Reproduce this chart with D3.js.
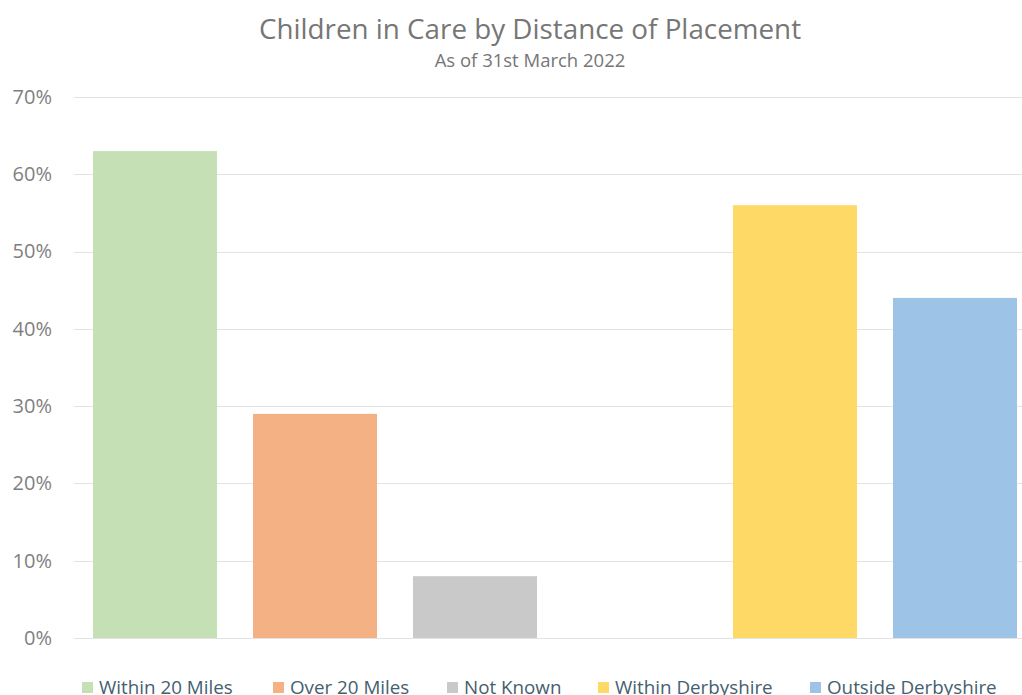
<!DOCTYPE html>
<html><head><meta charset="utf-8">
<script src="https://cdn.jsdelivr.net/npm/d3@7"></script>
<style>body{margin:0;background:#fff;overflow:hidden}svg{display:block}</style>
</head><body>
<script>
const categories = ["Within 20 Miles","Over 20 Miles","Not Known","gap","Within Derbyshire","Outside Derbyshire"];
const values = [63, 29, 8, null, 56, 44];
const colors = ["#C5E0B4","#F4B183","#C9C9C9",null,"#FFD966","#9DC3E6"];
const yTicks = [0,10,20,30,40,50,60,70];
const title = "Children in Care by Distance of Placement";
const subtitle = "As of 31st March 2022";

const W = 1022, H = 695;
const svg = d3.select("body").append("svg").attr("width", W).attr("height", H);
const font = "'Open Sans', sans-serif";

const x = d3.scaleBand().domain(categories).range([75, 1035]).paddingInner(0.225).paddingOuter(0.1125);
const y = d3.scaleLinear().domain([0, 70]).range([638, 97]);

// gridlines
svg.append("g").selectAll("line").data(yTicks).join("line")
  .attr("x1", 74).attr("x2", W).attr("y1", d => Math.round(y(d)) + 0.5).attr("y2", d => Math.round(y(d)) + 0.5)
  .attr("stroke", "#e3e3e3").attr("stroke-width", 1);

// y axis labels
const yAxis = d3.axisLeft(y).tickValues(yTicks).tickFormat(d => d + "%").tickSize(0).tickPadding(0);
const ga = svg.append("g").attr("transform", "translate(52,0)").call(yAxis);
ga.select(".domain").remove();
ga.selectAll("text").attr("font-family", font).attr("font-size", 20).attr("fill", "#7f7f7f");

// bars
const data = categories.map((c, i) => ({c, v: values[i], col: colors[i]})).filter(d => d.v != null);
svg.append("g").selectAll("rect").data(data).join("rect")
  .attr("x", d => x(d.c)).attr("width", x.bandwidth())
  .attr("y", d => y(d.v)).attr("height", d => y(0) - y(d.v))
  .attr("fill", d => d.col);

// title
svg.append("text").attr("x", 530).attr("y", 39).attr("text-anchor", "middle")
  .attr("font-family", font).attr("font-size", 27.8).attr("fill", "#767676").text(title);
svg.append("text").attr("x", 530).attr("y", 67).attr("text-anchor", "middle")
  .attr("font-family", font).attr("font-size", 18.5).attr("fill", "#767676").text(subtitle);

// legend
const legendX = [82, 273, 447, 598, 810];
const lg = svg.append("g");
const items = data.map((d, i) => ({...d, lx: legendX[i]}));
const li = lg.selectAll("g").data(items).join("g").attr("transform", d => `translate(${d.lx},0)`);
li.append("rect").attr("x", 0).attr("y", 682).attr("width", 11).attr("height", 11).attr("fill", d => d.col);
li.append("text").attr("x", 17).attr("y", 694).attr("font-family", font).attr("font-size", 18.8)
  .attr("fill", "#44606f").text(d => d.c);
</script>
</body></html>
